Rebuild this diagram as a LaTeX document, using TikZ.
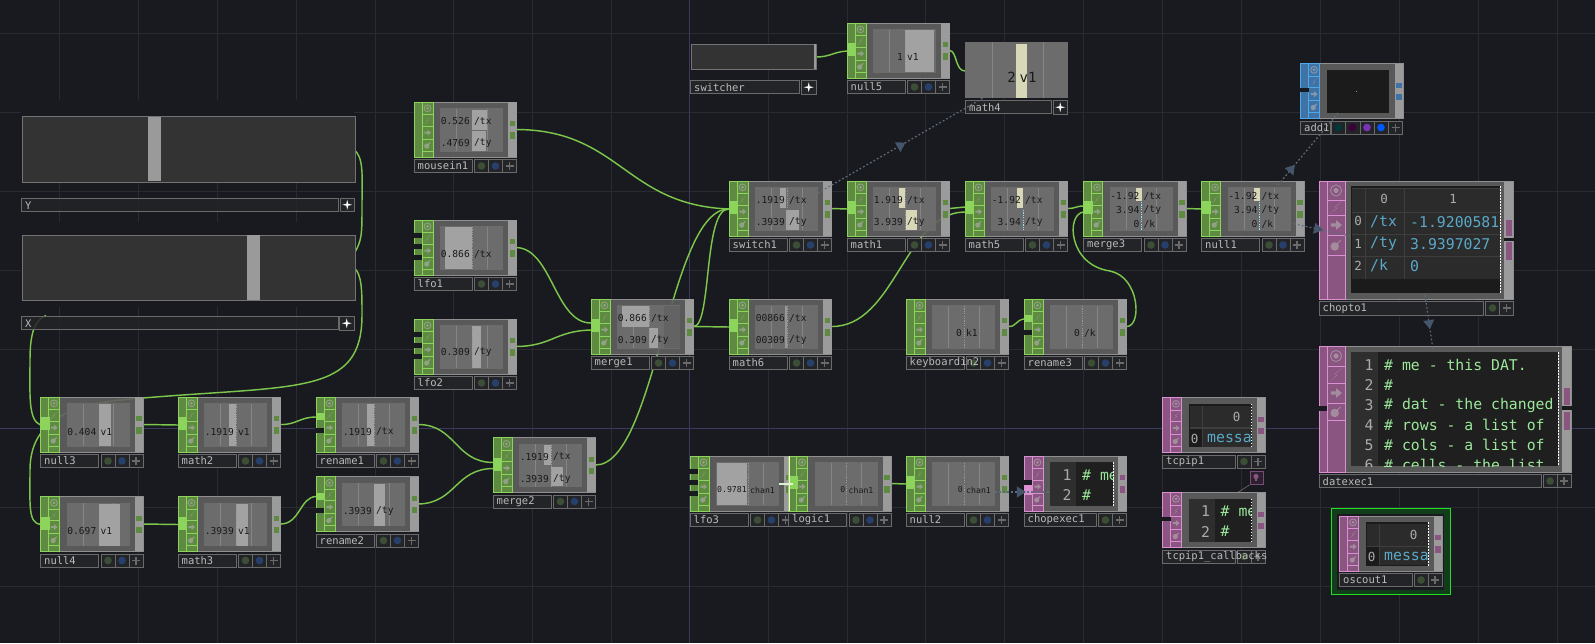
\documentclass[tikz,border=0pt]{standalone}
\usepackage{fontspec}
\setmonofont{DejaVu Sans Mono}
\usetikzlibrary{backgrounds,calc,arrows.meta,decorations.markings}
\definecolor{bgc}{HTML}{191A20}
\definecolor{gridc}{HTML}{2A2B31}
\definecolor{mainl}{HTML}{3A3A5E}
\definecolor{tbody}{HTML}{606060}
\definecolor{tview}{HTML}{6C6C6C}
\definecolor{vline}{HTML}{858585}
\definecolor{tedge}{HTML}{8F8F8F}
\definecolor{rstrip}{HTML}{9B9B9B}
\definecolor{barc}{HTML}{A2A2A2}
\definecolor{cream}{HTML}{D8D8B8}
\definecolor{gB}{HTML}{8CD45C}
\definecolor{gD}{HTML}{5F8A42}
\definecolor{pB}{HTML}{DA90D2}
\definecolor{pD}{HTML}{8A5580}
\definecolor{bB}{HTML}{4FA6E8}
\definecolor{bD}{HTML}{3F72A5}
\definecolor{wirec}{HTML}{7CC64C}
\definecolor{linkc}{HTML}{5D6C7C}
\definecolor{tipc}{HTML}{45566A}
\definecolor{labf}{HTML}{232427}
\definecolor{labe}{HTML}{6A6A6A}
\definecolor{labt}{HTML}{BBBBBB}
\definecolor{cellc}{HTML}{2B2B2B}
\definecolor{darkc}{HTML}{1B1B1B}
\definecolor{tgrid}{HTML}{3E3E3E}
\definecolor{numc}{HTML}{ABABAB}
\definecolor{bluetx}{HTML}{5AA9C8}
\definecolor{codec}{HTML}{9BE89B}
\definecolor{dotg}{HTML}{3C4F36}
\definecolor{dotb}{HTML}{27406B}
\newcounter{nn}
\newcommand\nid{n\arabic{nn}}
\tikzset{
  tilebody/.style={draw=tedge,line width=.9pt,fill=tbody,fill opacity=.9,inner sep=0pt,outer sep=0pt,anchor=north west},
  wire/.style={draw=wirec,line width=1.45pt},
  link/.style={draw=linkc,line width=1.2pt,dash pattern=on 1.8pt off 2.2pt},
  linktip/.style={postaction={decorate,decoration={markings,mark=at position #1 with {\arrow[tipc]{Triangle[length=9pt,width=11pt]}}}}},
  vtext/.style={inner sep=0pt,font=\ttfamily\fontsize{9.6}{11}\selectfont,text=black!90},
  vsmall/.style={inner sep=0pt,font=\ttfamily\fontsize{8.2}{10}\selectfont,text=black!90},
  labtext/.style={inner sep=0pt,anchor=west,font=\ttfamily\fontsize{10.5}{12}\selectfont,text=labt},
  tnum/.style={inner sep=0pt,font=\ttfamily\fontsize{12.5}{14}\selectfont,text=numc},
  tval/.style={inner sep=0pt,anchor=west,font=\ttfamily\fontsize{14.8}{17}\selectfont,text=bluetx},
  tcode/.style={inner sep=0pt,anchor=west,font=\ttfamily\fontsize{14.8}{17}\selectfont,text=codec},
  lnum/.style={inner sep=0pt,font=\ttfamily\fontsize{14.8}{17}\selectfont,text=numc},
  lab/.style={fill=labf,draw=labe,line width=.8pt},
}
% icons
\newcommand\icons[9]{% x0,x1,r0..r4,bottom,prefix
  \pgfmathsetmacro\icx{(#1+#2)/2}\pgfmathsetmacro\ics{(#2-#1)/11}
  \foreach \ra/\rb/\ik in {#3/#4/1,#4/#5/2,#5/#6/3,#6/#7/4}{
    \draw[#9B,line width=.8pt] (#1,\ra) rectangle (#2,\rb);
    \pgfmathsetmacro\icy{(\ra+\rb)/2}
    \begin{scope}[shift={(\icx,\icy)},x=\ics pt,y=-\ics pt,gray!60!white,fill opacity=.6,draw opacity=.6]
      \ifnum\ik=1 \draw[line width=.9pt] (0,0) circle[radius=3.4*\ics pt]; \fill (0,0) circle[radius=1.6*\ics pt];\fi
      \ifnum\ik=2 \fill (3.4,-3.8)--(-.9,-.2)--(.6,.1)--(-3.4,3.8)--(.9,.2)--(-.6,-.1)--cycle;\fi
      \ifnum\ik=3 \fill (-3.2,-1)--(0,-1)--(0,-3)--(3.6,0)--(0,3)--(0,1)--(-3.2,1)--cycle;\fi
      \ifnum\ik=4 \fill (-.8,.9) circle[radius=2.6*\ics pt]; \draw[line width=1pt] (.5,-.5)--(2.8,-2.8);\fi
    \end{scope}
  }
  \draw[#9B,line width=.8pt] (#1,#7) rectangle (#2,#8);
}
% strips
\newcommand\stripC{\fill[\tp B] (0,20) rectangle (9,33);}
\newcommand\stripN{}
\newcommand\stripR{\fill[\tp B] (0,16) rectangle (9,23);\fill[bgc] (-.8,31) rectangle (8,36);\coordinate (\tn-i) at (0,20);}
\newcommand\stripL{\fill[bgc] (-.8,13) rectangle (8,18);\fill[bgc] (-.8,24) rectangle (8,29);\fill[bgc] (-.8,35) rectangle (8,40);}
\newcommand\stripG{\fill[bgc] (-.8,24) rectangle (8,28.5);}
\newcommand\stripE{\fill[bgc] (-.8,24) rectangle (8,28.5);\fill[\tp B] (0,29) rectangle (9,39);}
% viewer helpers
\newcommand\vb[5][barc]{\fill[#1] (#2,#4) rectangle (#3,#5);}
\newcommand\vz[2]{\draw[white!60!black,line width=.7pt,dash pattern=on 1.2pt off 1.2pt] (58,#1)--(58,#2);}
\newcommand\vt[3]{\stepcounter{nn}\node[vtext,anchor=east] (\nid) at (56,#1) {#2};\stepcounter{nn}\node[vtext,anchor=west] (\nid) at (60,#1) {#3};}
\newcommand\vs[3]{\stepcounter{nn}\node[vsmall,anchor=east] (\nid) at (57,#1) {#2};\stepcounter{nn}\node[vsmall,anchor=west] (\nid) at (60,#1) {#3};}
% label rows
\newcommand\labA[1]{\fill[labf] (0,57.5) rectangle (58,70.5);\draw[labe,line width=.8pt] (0,57.5) rectangle (58,70.5);
  \draw[lab] (60.7,57.5) rectangle (102.5,70.5);\draw[labe,line width=.8pt] (74.5,57.5)--(74.5,70.5) (88.5,57.5)--(88.5,70.5);
  \fill[dotg] (67.5,64) circle[radius=3.8pt];\fill[dotb] (81.5,64) circle[radius=3.8pt];
  \fill[labe] (95.5,64) +(-4,-.9) rectangle +(4,.9);\fill[labe] (95.5,64) +(-.9,-4) rectangle +(.9,4);
  \node[labtext] (\tn-lab) at (3.5,64) {#1};}
\newcommand\labB[1]{\draw[lab] (0,57.5) rectangle (72.5,70.5);
  \draw[lab] (74.5,57.5) rectangle (102.5,70.5);\draw[labe,line width=.8pt] (88.5,57.5)--(88.5,70.5);
  \fill[dotg] (81.5,64) circle[radius=3.8pt];
  \fill[labe] (95.5,64) +(-4,-.9) rectangle +(4,.9);\fill[labe] (95.5,64) +(-.9,-4) rectangle +(.9,4);
  \node[labtext] (\tn-lab) at (3.5,64) {#1};}
\newcommand\labC[1]{\draw[lab] (0,57.5) rectangle (30,70.5);
  \draw[lab] (31,57.5) rectangle (102,70.5);
  \foreach \cx in {45,59.5,73.5,88}{\draw[labe,line width=.8pt] (\cx,57.5)--(\cx,70.5);}
  \fill[teal!45!black] (38,64) circle[radius=3.8pt];\fill[violet!45!black] (52,64) circle[radius=3.8pt];
  \fill[violet!70!blue!80!white] (66.5,64) circle[radius=3.8pt];\fill[blue!65!cyan] (80.5,64) circle[radius=3.8pt];
  \fill[labe] (95,64) +(-4,-.9) rectangle +(4,.9);\fill[labe] (95,64) +(-.9,-4) rectangle +(.9,4);
  \node[labtext] (\tn-lab) at (3.5,64) {#1};}
% standard tile
\newcommand\tile[8]{% name,x,y,label,prefix,strip,viewer,labelkind
  \begin{scope}[shift={(#2,#3)}]
    \def\tn{#1}\def\tp{#5}
    \node[tilebody,minimum width=102.5pt,minimum height=55pt] (#1) at (0,0) {};
    \coordinate (#1-o) at (102.5,27.5);
    \coordinate (#1-i) at (0,28);
    \fill[rstrip] (94,.4) rectangle (102.5,54.6);
    \fill[#5D] (95.5,19) rectangle (101,24);\fill[#5D] (95.5,30) rectangle (101,36.5);
    \fill[#5D] (0,0) rectangle (19,55);
    \icons{8}{19}{0}{12.7}{24.3}{37}{49.3}{55}{#5}
    \draw[#5B,line width=.9pt] (0,0) rectangle (19,55);
    #6
    #7
    #8{#4}
  \end{scope}
}
\newcommand\viewer{\fill[tview] (26,6) rectangle (89,49.5);\draw[vline,line width=.7pt] (42.5,6.5)--(42.5,49) (73,6.5)--(73,49);}
\newcommand\tableview[2]{% header value, row value
  \fill[darkc] (26,6) rectangle (89,49.5);
  \fill[tgrid] (27,8) rectangle (89,49);
  \fill[cellc] (27,8) rectangle (39.5,29.5);\fill[cellc] (40.5,8) rectangle (89,29.5);\fill[darkc] (27,31) rectangle (39.5,49);\fill[cellc] (40.5,31) rectangle (89,49);
  \stepcounter{nn}\node[tnum] (\nid) at (74,19) {#1};\stepcounter{nn}\node[tnum] (\nid) at (32,41) {0};
  \begin{scope}\clip (26,6) rectangle (89,49.5);\stepcounter{nn}\node[tval] (\nid) at (44.5,40.5) {#2};\end{scope}
  \draw[white,line width=.8pt,dash pattern=on 1.7pt off 1.3pt] (89,6)--(89,49.5);}
\newcommand\codeview{%
  \fill[black!88] (26,6) rectangle (89,49.5);\fill[black!82] (26,6) rectangle (52,49.5);
  \stepcounter{nn}\node[lnum] (\nid) at (43,19) {1};\stepcounter{nn}\node[lnum] (\nid) at (43,39) {2};
  \begin{scope}\clip (26,6) rectangle (89,49.5);\stepcounter{nn}\node[tcode] (\nid) at (58,19) {\# me};\stepcounter{nn}\node[tcode] (\nid) at (58,39) {\#};\end{scope}
  \draw[white,line width=.8pt,dash pattern=on 1.7pt off 1.3pt] (89,6)--(89,49.5);}
\newcommand\plusbox[2]{\draw[lab] (#1,#2) rectangle +(14.5,13.5);\fill[white] (#1+7.25,#2+1.8) -- (#1+8.2,#2+5.8) -- (#1+12.2,#2+6.75) -- (#1+8.2,#2+7.7) -- (#1+7.25,#2+11.7) -- (#1+6.3,#2+7.7) -- (#1+2.3,#2+6.75) -- (#1+6.3,#2+5.8) -- cycle;}
\begin{document}
\begin{tikzpicture}[x=1pt,y=-1pt]
\useasboundingbox (0,0) rectangle (1595,643);
% panels
\node[fill=bgc,inner sep=0pt,minimum width=333pt,minimum height=82pt,anchor=north west] (bgY) at (21,100) {};
\node[fill=bgc,inner sep=0pt,minimum width=333pt,minimum height=85pt,anchor=north west] (bgX) at (21,222) {};
\node[fill=black!80!white,draw=black!55!white,line width=.9pt,minimum width=333pt,minimum height=65.5pt,inner sep=0pt,anchor=north west] (panelY) at (21.5,116) {};
\fill[barc!95!black] (148,116.5) rectangle (161,181);
\node[fill=black!80!white,draw=black!55!white,line width=.9pt,minimum width=333pt,minimum height=65.5pt,inner sep=0pt,anchor=north west] (panelX) at (21.5,234.5) {};
\fill[barc!95!black] (247,235) rectangle (260,299.5);
\fill[labf,fill opacity=.85] (21.5,198) rectangle (338.5,211.5);\draw[labe,line width=.9pt] (21.5,198) rectangle (338.5,211.5);
\node[labtext] (labY) at (25,206) {Y};
\plusbox{340}{198}
\fill[labf,fill opacity=.85] (21.5,316.5) rectangle (338,329.5);\draw[labe,line width=.9pt] (21.5,316.5) rectangle (338,329.5);
\node[labtext] (labX) at (25,323.5) {X};
\plusbox{339.5}{316.5}
\coordinate (panelY-o) at (354,149.5);
\coordinate (panelX-o) at (354,267.5);
\coordinate (panelY-r) at (354,254);
\coordinate (panelX-b) at (46,315.5);
% switcher
\node[fill=black!80!white,draw=black!55!white,line width=.9pt,minimum width=125pt,minimum height=25pt,inner sep=0pt,anchor=north west] (switcher) at (690.5,44) {};
\fill[rstrip] (813.5,44) rectangle (816,69);
\draw[lab] (690.5,80.5) rectangle (799.5,93.5);
\node[labtext] (switcher-lab) at (694,87.5) {switcher};
\plusbox{801.5}{80.5}
\coordinate (switcher-o) at (816,57);
% math4
\node[fill=tview,inner sep=0pt,minimum width=103pt,minimum height=56pt,anchor=north west] (math4) at (965,42) {};
\fill[cream] (1016,44) rectangle (1027,98);
\draw[vline,line width=.7pt] (992,42)--(992,98) (1043,42)--(1043,98);
\node[inner sep=0pt,font=\ttfamily\fontsize{14}{16}\selectfont,text=black!90,anchor=east] (math4-v) at (1016,77) {2};
\node[inner sep=0pt,font=\ttfamily\fontsize{14}{16}\selectfont,text=black!90,anchor=west] (math4-n) at (1019.5,77) {v1};
\draw[lab] (965.5,100.5) rectangle (1051,113.5);
\node[labtext] (math4-lab) at (969,107.5) {math4};
\plusbox{1053}{100.5}
\coordinate (math4-i) at (965,71);
% tiles
\tile{null3}{40.5}{397}{null3}{g}{\stripC}{\viewer\vb{58}{70}{7}{49}\vt{34.5}{0.404}{v1}}{\labA}
\tile{math2}{178}{397}{math2}{g}{\stripC}{\viewer\vb{51}{58}{7}{49}\vz{7}{49}\vt{34.5}{.1919}{v1}}{\labA}
\tile{rename1}{316}{397}{rename1}{g}{\stripR}{\viewer\vb{51}{57.5}{7}{49}\vz{7}{49}\vt{34.5}{.1919}{/tx}}{\labA}
\tile{rename2}{316}{476.5}{rename2}{g}{\stripR}{\viewer\vb{57.5}{69}{7}{49}\vt{34.5}{.3939}{/ty}}{\labA}
\tile{null4}{40.5}{496.5}{null4}{g}{\stripC}{\viewer\vb{58}{79}{7}{49}\vt{34.5}{0.697}{v1}}{\labA}
\tile{math3}{178}{496.5}{math3}{g}{\stripC}{\viewer\vb{57.5}{70}{7}{49}\vz{7}{49}\vt{34.5}{.3939}{v1}}{\labA}
\tile{mousein1}{414}{102}{mousein1}{g}{\stripN}{\viewer\vb{58}{73}{8}{28}\vb{58}{72}{28.5}{49}\vt{19}{0.526}{/tx}\vt{41}{.4769}{/ty}}{\labA}
\tile{lfo1}{414}{220}{lfo1}{g}{\stripL}{\viewer\vb{31}{58}{7}{49}\vz{7}{49}\vt{34}{0.866}{/tx}}{\labA}
\tile{lfo2}{414}{319}{lfo2}{g}{\stripL}{\viewer\vb{58}{67}{7}{49}\vz{7}{49}\vt{33}{0.309}{/ty}}{\labA}
\tile{merge1}{591}{299}{merge1}{g}{\stripC}{\viewer\vb[tview!92!black]{73}{89}{7}{49}\vb{31}{58}{7}{28}\vb{58}{67}{29}{49}\vz{7}{49}\vt{19}{0.866}{/tx}\vt{41}{0.309}{/ty}}{\labA}
\tile{merge2}{493}{437.5}{merge2}{g}{\stripC}{\viewer\vb{51}{58}{7}{27}\vb{58}{70}{29}{48}\vz{7}{49}\vt{19}{.1919}{/tx}\vt{41}{.3939}{/ty}}{\labA}
\tile{switch1}{729}{181}{switch1}{g}{\stripC}{\viewer\vb{51}{57}{7}{27}\vb{57}{70}{29}{49}\vz{7}{49}\vt{19}{.1919}{/tx}\vt{41}{.3939}{/ty}}{\labA}
\tile{math1}{847}{181}{math1}{g}{\stripC}{\viewer\vb[cream]{52}{58}{7}{27}\vb[cream]{59}{70}{29}{49}\vz{7}{49}\vt{19}{1.919}{/tx}\vt{41}{3.939}{/ty}}{\labA}
\tile{math5}{965}{181}{math5}{g}{\stripC}{\viewer\vb[cream]{52}{58}{7}{27}\draw[cyan!40!white,line width=.7pt,dash pattern=on 1.2pt off 1.2pt] (58,29)--(58,49);\vt{19}{-1.92}{/tx}\vt{41}{3.94}{/ty}}{\labA}
\tile{merge3}{1083.5}{181}{merge3}{g}{\stripC}{\viewer\vb[cream]{52}{58}{7}{19.5}\draw[cyan!40!white,line width=.7pt,dash pattern=on 1.2pt off 1.2pt] (58,21)--(58,49);\vt{15}{-1.92}{/tx}\vt{29}{3.94}{/ty}\vt{43}{0}{/k}}{\labA}
\tile{null1}{1201.5}{181}{null1}{g}{\stripC}{\viewer\vb[cream]{52}{58}{7}{19.5}\draw[cyan!40!white,line width=.7pt,dash pattern=on 1.2pt off 1.2pt] (58,21)--(58,49);\vt{15}{-1.92}{/tx}\vt{29}{3.94}{/ty}\vt{43}{0}{/k}}{\labA}
\tile{math6}{729}{299}{math6}{g}{\stripC}{\viewer\vb[barc!80!tview]{56}{58}{7}{49}\vz{7}{49}\vt{19}{00866}{/tx}\vt{41}{00309}{/ty}}{\labA}
\tile{keyboardin2}{906}{299}{keyboardin2}{g}{\stripN}{\viewer\vz{7}{49}\vt{34}{0}{k1}}{\labA}
\tile{rename3}{1024}{299}{rename3}{g}{\stripR}{\viewer\vz{7}{49}\vt{34}{0}{/k}}{\labA}
\tile{null5}{847}{23}{null5}{g}{\stripC}{\viewer\vb{58}{87}{7}{49}\vz{7}{49}\vt{34}{1}{v1}}{\labA}
\tile{lfo3}{690}{456}{lfo3}{g}{\stripL}{\viewer\vb{27}{57}{7}{49}\vz{7}{49}\vs{34}{0.9781}{chan1}}{\labA}
\tile{logic1}{788.5}{456}{logic1}{g}{\stripC}{\viewer\vz{7}{49}\vs{34}{0}{chan1}}{\labA}
\tile{null2}{906}{456}{null2}{g}{\stripC}{\viewer\vz{7}{49}\vs{34}{0}{chan1}}{\labA}
\tile{chopexec1}{1024}{456}{chopexec1}{p}{\stripE}{\codeview}{\labB}
\coordinate (chopexec1-i) at (1024,490);
\tile{tcpip1}{1162.5}{397.5}{tcpip1}{p}{\stripN}{\tableview{0}{messa}}{\labB}
\tile{tcpipcb}{1162.5}{492.5}{tcpip1\_callbacks}{p}{\stripG}{\codeview}{\labB}
\tile{add1}{1300.5}{63.5}{add1}{b}{\stripG}{\fill[darkc] (26,6) rectangle (88,49);\fill[bB] (55,27.5) rectangle (56,28.5);}{\labC}
% logic1 selection marks
\draw[white!90!yellow,line width=1pt] (789,456)--(789,511);
\fill[white!70!gB] (779,483.3) rectangle (793,485);
% oscout1
\node[draw={rgb,255:red,34;green,224;blue,34},fill={rgb,255:red,18;green,61;blue,26},line width=1.4pt,minimum width=119pt,minimum height=86pt,inner sep=0pt,anchor=north west] (oscframe) at (1330.5,508) {};
\fill[bgc] (1337,514) rectangle (1444,590);
\tile{oscout1}{1339.5}{516}{oscout1}{p}{\stripN}{\tableview{0}{messa}}{\labB}
% chopto1
\begin{scope}[shift={(1319,181)}]
  \def\tn{chopto1}\def\tp{p}
  \node[tilebody,minimum width=194pt,minimum height=118pt] (chopto1) at (0,0) {};
  \fill[rstrip] (185,.5) rectangle (194,117.5);
  \fill[pD] (186.5,39) rectangle (193,55);\fill[bgc] (185,56.5) rectangle (194.6,60);\fill[pD] (186.5,60.5) rectangle (193,79);
  \fill[pD] (0,0) rectangle (26,118);
  \icons{8}{26}{0}{19}{34}{54}{74}{118}{p}
  \draw[pB,line width=.9pt] (0,0) rectangle (26,118);
  \fill[darkc] (32,5) rectangle (181,112);
  \fill[tgrid] (33,7) rectangle (181,98);
  \foreach \xa/\xb in {33/45.5,46.5/84.5,85.5/181}{\foreach \ya/\yb in {7.5/30.5,31.5/52.5,53.5/74.5,75.5/97.5}{\fill[cellc] (\xa,\ya) rectangle (\xb,\yb);}}
  \node[tnum] (chopto1-h0) at (65,18) {0};\node[tnum] (chopto1-h1) at (134,18) {1};
  \node[tnum] (chopto1-r0) at (39,40) {0};\node[tnum] (chopto1-r1) at (39,63) {1};\node[tnum] (chopto1-r2) at (39,85) {2};
  \node[tval] (chopto1-a0) at (51,41) {/tx};\node[tval] (chopto1-a1) at (51,63) {/ty};\node[tval] (chopto1-a2) at (51,85) {/k};
  \begin{scope}\clip (85,7) rectangle (181,98);
  \node[tval] (chopto1-b0) at (91,41) {-1.9200581};\node[tval] (chopto1-b1) at (91,63) {3.9397027};\node[tval] (chopto1-b2) at (91,85) {0};
  \end{scope}
  \draw[white,line width=.8pt,dash pattern=on 1.7pt off 1.3pt] (181,5)--(181,112);
  \draw[lab] (0,120.5) rectangle (164.5,134);
  \draw[lab] (166.5,120.5) rectangle (194,134);\draw[labe,line width=.8pt] (180.5,120.5)--(180.5,134);
  \fill[dotg] (173.5,127) circle[radius=3.8pt];
  \fill[labe] (187.5,127) +(-4,-.9) rectangle +(4,.9);\fill[labe] (187.5,127) +(-.9,-4) rectangle +(.9,4);
  \node[labtext] (chopto1-lab) at (3.5,127.5) {chopto1};
\end{scope}
% datexec1
\begin{scope}[shift={(1319,346)}]
  \def\tn{datexec1}\def\tp{p}
  \node[tilebody,minimum width=252pt,minimum height=126pt] (datexec1) at (0,0) {};
  \fill[rstrip] (243,.5) rectangle (252,125.5);
  \fill[pD] (244.5,42) rectangle (251,59);\fill[bgc] (243,60) rectangle (252.6,64);\fill[pD] (244.5,66) rectangle (251,84);
  \fill[pD] (0,0) rectangle (26,126);
  \icons{8}{26}{0}{20}{37}{57}{74}{126}{p}
  \draw[pB,line width=.9pt] (0,0) rectangle (26,126);
  \fill[bgc] (-.8,60) rectangle (8,65);
  \fill[black!88] (32,6) rectangle (239,120);\fill[black!82] (32,6) rectangle (59,120);
  \begin{scope}\clip (32,6) rectangle (239,120);
  \foreach \lnn/\yy/\txx in {1/19/{\# me - this DAT.},2/39/{\#},3/59/{\# dat - the changed},4/79/{\# rows - a list of},5/99/{\# cols - a list of},6/119/{\# cells - the list}}{
    \node[lnum] (dl\lnn) at (50,\yy) {\lnn};
    \node[tcode] (dt\lnn) at (65,\yy) {\txx};
  }
  \end{scope}
  \draw[white,line width=.8pt,dash pattern=on 1.7pt off 1.3pt] (239,6)--(239,120);
  \draw[lab] (0,128.5) rectangle (222,141.5);
  \draw[lab] (224,128.5) rectangle (252,141.5);\draw[labe,line width=.8pt] (238,128.5)--(238,141.5);
  \fill[dotg] (231,135) circle[radius=3.8pt];
  \fill[labe] (245,135) +(-4,-.9) rectangle +(4,.9);\fill[labe] (245,135) +(-.9,-4) rectangle +(.9,4);
  \node[labtext] (datexec1-lab) at (3.5,135.5) {datexec1};
\end{scope}
% small par box
\node[draw={rgb,255:red,122;green,74;blue,120},fill={rgb,255:red,45;green,32;blue,46},line width=.9pt,minimum width=13.5pt,minimum height=13pt,inner sep=0pt,anchor=north west] (parbox) at (1249.5,471) {};
\fill[pD] (1256,476.5) circle[radius=2.6pt];\fill[pD] (1255,478) rectangle (1257.2,481);
% link coordinates
\coordinate (lk-sw) at (818,193);\coordinate (lk-m4) at (983,98);
\coordinate (lk-n1a) at (1278,185);\coordinate (lk-add) at (1338,113);
\coordinate (lk-n1b) at (1290,223);\coordinate (lk-ch) at (1350,236);
\coordinate (lk-chb) at (1425,295);\coordinate (lk-dat) at (1433,350);
\coordinate (lk-n2) at (995,492);\coordinate (lk-ce) at (1050,492);
\draw[link,linktip=.53] (lk-sw)--(lk-m4);
\draw[link,linktip=.28] (lk-n1a)--(lk-add);
\draw[link,linktip=.55] (lk-n1b)--(lk-ch);
\draw[link,linktip=.62] (lk-chb)--(lk-dat);
\draw[link,linktip=.56] (lk-n2)--(lk-ce);
\begin{scope}[on background layer]
  \fill[bgc] (0,0) rectangle (1595,643);
  \foreach \gx in {59.3,138.2,217.1,296,374.9,453.8,532.7,611.6,768,846.9,925.8,1004.7,1083.6,1162.5,1241.4,1320.3,1399.2,1478.1,1557}{\draw[gridc,line width=.8pt] (\gx,0)--(\gx,643);}
  \foreach \gy in {33,112,191,270,349,507,586}{\draw[gridc,line width=.8pt] (0,\gy)--(1595,\gy);}
  \draw[mainl,line width=1pt] (689,0)--(689,643);
  \draw[mainl,line width=1pt] (0,428)--(1595,428);
  % wires
  \draw[wire] (panelY-o) .. controls (364,158) and (362,175) .. (362,205) .. controls (362,235) and (362,240) .. (panelY-r);
  \draw[wire] (panelX-b) .. controls (34,320) and (30,335) .. (30,360) .. controls (30,395) and (28,420) .. (null3-i);
  \draw[wire] (panelX-o) .. controls (362,275) and (362,290) .. (362,315) .. controls (362,395) and (300,385) .. (143,398) .. controls (90,402) and (30,410) .. (30,470) .. controls (30,505) and (28,523) .. (null4-i);
  \draw[wire] (null3-o)--(math2-i);
  \draw[wire] (math2-o) .. controls (296,425) and (300,417) .. (rename1-i);
  \draw[wire] (null4-o)--(math3-i);
  \draw[wire] (math3-o) .. controls (300,524) and (300,497) .. (rename2-i);
  \draw[wire] (rename1-o) .. controls (456,425) and (455,462) .. ($(merge2-i)+(0,-3)$);
  \draw[wire] (rename2-o) .. controls (456,503) and (455,469) .. ($(merge2-i)+(0,3)$);
  \draw[wire] (merge2-o) .. controls (656,465) and (669,208) .. (switch1-i);
  \draw[wire] (merge1-o) .. controls (712,327) and (703,208) .. (switch1-i);
  \draw[wire] (mousein1-o) .. controls (620,130) and (625,205) .. (switch1-i);
  \draw[wire] (lfo1-o) .. controls (552,249) and (555,323) .. ($(merge1-i)+(0,-4)$);
  \draw[wire] (lfo2-o) .. controls (552,346) and (555,331) .. ($(merge1-i)+(0,3)$);
  \draw[wire] (merge1-o)--(math6-i);
  \draw[wire] (switch1-o)--(math1-i);
  \draw[wire] (math1-o) .. controls (957,208.5) and (957,207) .. ($(math5-i)+(0,-2)$);
  \draw[wire] (math6-o) .. controls (895,327) and (905,212) .. ($(math5-i)+(0,3)$);
  \draw[wire] (math5-o) .. controls (1076,208.5) and (1076,206) .. ($(merge3-i)+(0,-3)$);
  \draw[wire] (rename3-o) .. controls (1142,327) and (1140,277) .. (1110,271) .. controls (1068,265) and (1066,214) .. ($(merge3-i)+(0,3)$);
  \draw[wire] (merge3-o)--(null1-i);
  \draw[wire] (keyboardin2-o) .. controls (1016,327) and (1016,320) .. (rename3-i);
  \draw[wire] (lfo3-o)--(logic1-i);
  \draw[wire] (logic1-o)--(null2-i);
  \draw[wire] (switcher-o) .. controls (830,57) and (833,52) .. (null5-i);
  \draw[wire] (null5-o) .. controls (957,50.5) and (955,71) .. (math4-i);
  \draw[draw=black!65!white,line width=.9pt] (tcpipcb.north)++(24,0) -- (parbox.south west);
\end{scope}
\end{tikzpicture}
\end{document}
